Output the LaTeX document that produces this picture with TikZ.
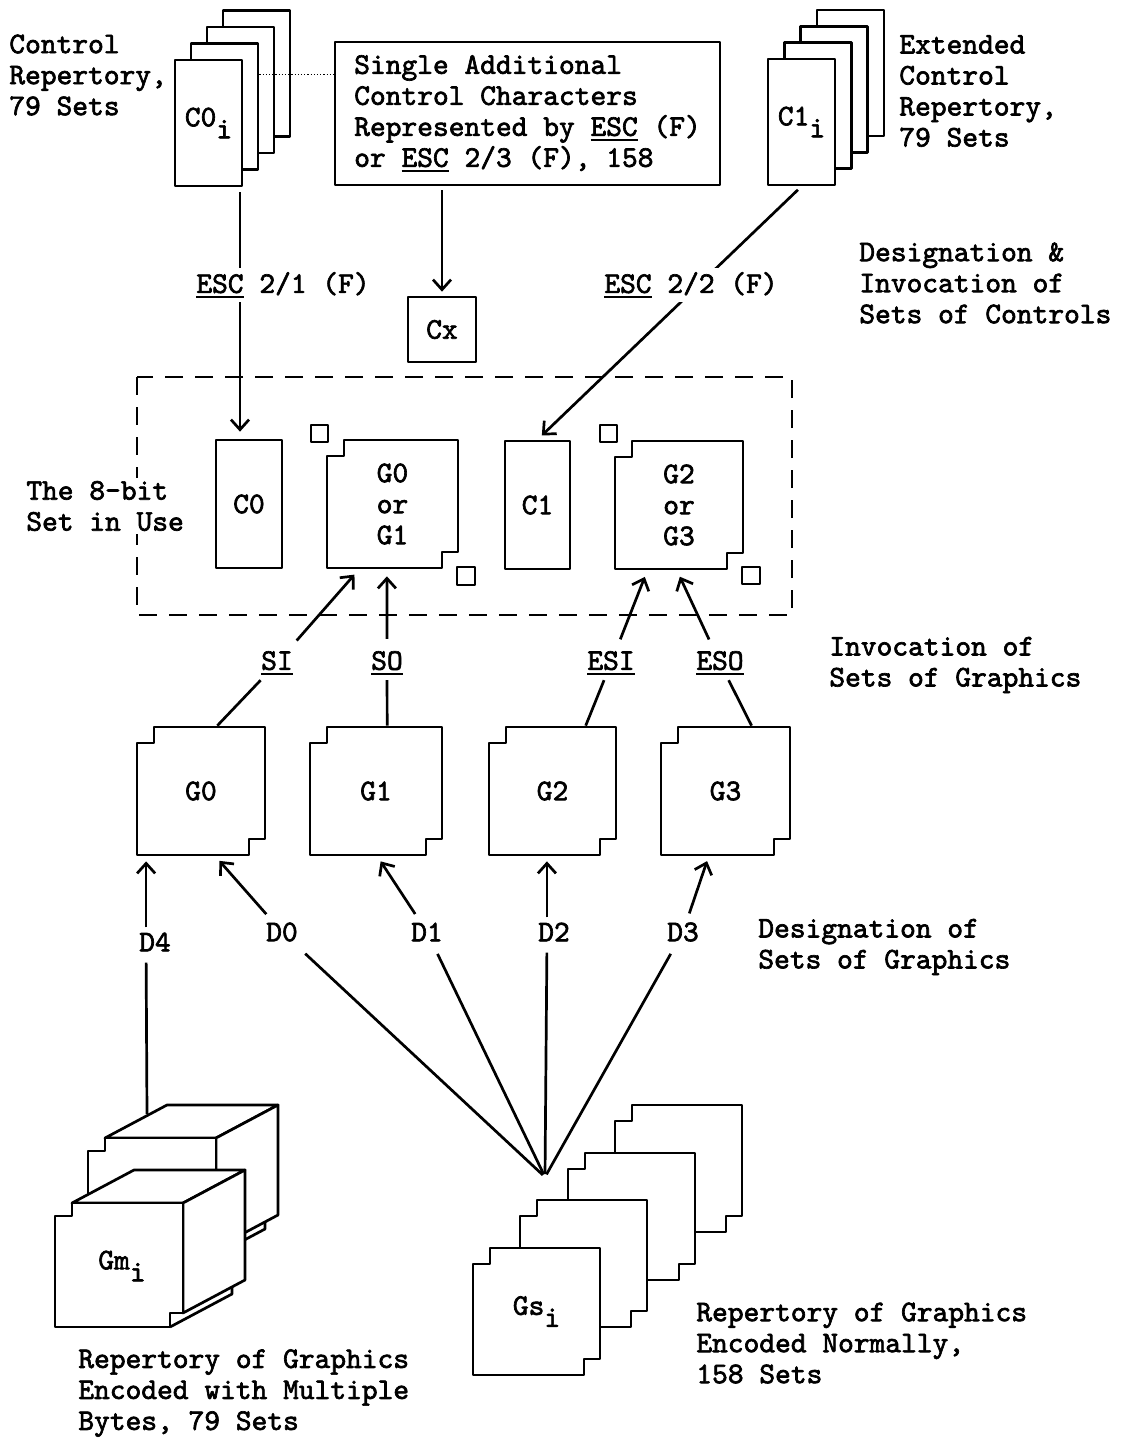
\documentclass[tikz,border=0pt]{standalone}
\usepackage{fontspec}
\newfontfamily\tw{lmmono10-regular.otf}[FakeBold=2.2]
\usetikzlibrary{calc,arrows.meta}
\newcommand\ul[1]{\setbox0\hbox{#1}\rlap{\rule[-5pt]{\wd0}{2.2pt}}\box0\relax}
\newcommand\gbox[6]{%
  \draw[fill=white] (#2+17,#3) -- (#4,#3) -- (#4,#5-16) -- (#4-16,#5-16) -- (#4-16,#5) -- (#2,#5) -- (#2,#3+16) -- (#2+17,#3+16) -- cycle;
  \node[minimum width=#4-#2, minimum height=#5-#3, align=center] (#1) at ({(#2+#4)/2},{(#3+#5)/2}) {#6};}
\newcommand\gmcube{%
  \draw[fill=white] (72,1203) -- (134,1170) -- (245,1170) -- (183,1203) -- cycle;
  \draw[fill=white] (183,1203) -- (245,1170) -- (245,1280) -- (183,1313) -- cycle;
  \draw (170,1327) -- (232,1294) -- (232,1287);
  \draw[fill=white] (72,1203) -- (183,1203) -- (183,1313) -- (170,1313) -- (170,1327) -- (55,1327) -- (55,1216) -- (72,1216) -- cycle;}
\begin{document}
\begin{tikzpicture}[x=1pt,y=-1pt,line width=2.7pt,line join=round,
  every node/.style={font=\tw\fontsize{30}{31}\selectfont, inner sep=0pt},
  card/.style={draw,fill=white,minimum width=67pt,minimum height=126pt},
  txt/.style={align=left,anchor=west},
  lab/.style={inner sep=4pt},
  arr/.style={-{Straight Barb[length=10pt,width=18pt]}}]
\useasboundingbox (0,0) rectangle (1124,1440);

% control repertory stack
\node[card] (c0d) at (256.5,73.5) {};
\node[card] (c0c) at (240.5,90) {};
\node[card] (c0b) at (224.5,106.5) {};
\node[card] (c0i) at (208.5,123) {C0\raisebox{-12pt}{i}};
\node[txt] (ctrlrep) at (8,75) {Control\\Repertory,\\79 Sets};

% extended control stack
\node[card] (c1d) at (850.4,73.1) {};
\node[card] (c1c) at (834.1,89.4) {};
\node[card] (c1b) at (817.8,105.7) {};
\node[card] (c1i) at (801.5,122) {C1\raisebox{-12pt}{i}};
\node[txt] (extrep) at (898,91) {Extended\\Control\\Repertory,\\79 Sets};

% single additional box
\node[draw,minimum width=385pt,minimum height=143pt,align=left] (single) at (527.5,113.5)
  {Single Additional\\Control Characters\\Represented by \ul{ESC} (F)\\or \ul{ESC} 2/3 (F), 158};
\coordinate (dotA) at ([yshift=32pt]c0b.east);
\draw[dotted,line width=1.2pt] (dotA) -- (dotA -| single.west);

\node[draw,minimum width=68pt,minimum height=65pt] (cx) at (442,329.5) {Cx};
\node[txt] (desctl) at (858,283) {Designation \&\\Invocation of\\Sets of Controls};

% 8-bit set in use
\draw[dash pattern=on 18pt off 12pt] (137,377) rectangle (792,615);
\node[txt,fill=white,inner sep=3pt] (inuse) at (22,506) {The 8-bit\\Set in Use};
\node[draw,minimum width=66pt,minimum height=128pt] (c0box) at (249,504) {C0};
\node[draw,minimum width=65pt,minimum height=128pt] (c1box) at (537.5,505) {C1};
\gbox{g01}{327}{440}{458}{568}{G0\\or\\G1}
\gbox{g23}{615}{441}{743}{569}{G2\\or\\G3}
\draw (311,425) rectangle (328,442);
\draw (457,567) rectangle (475,585);
\draw (600,425) rectangle (617,442);
\draw (742,567) rectangle (760,584);

% control connectors
\coordinate (t1) at ([xshift=-9pt]c0box.north);
\draw[arr,shorten <=5pt,shorten >=7pt] (t1 |- c0i.south) -- (t1);
\node[lab,fill=white] (esc21) at (283,285) {\ul{ESC} 2/1 (F)};
\draw[arr,shorten <=5pt,shorten >=6pt] (c1i.south) -- (c1box.north);
\node[lab,fill=white] (esc22) at (691,285) {\ul{ESC} 2/2 (F)};
\draw[arr,shorten <=4pt,shorten >=4pt] (cx.north |- single.south) -- (cx.north);

% graphics sets
\gbox{g0}{137}{727}{265}{855}{G0}
\gbox{g1}{310}{727}{442}{855}{G1}
\gbox{g2}{489}{727}{616}{855}{G2}
\gbox{g3}{661}{727}{790}{855}{G3}
\node[txt] (invgr) at (828,665) {Invocation of\\Sets of Graphics};

% invocation labels and connectors
\node[lab] (si) at (277,663) {\ul{SI}};
\node[lab] (so) at (387,663) {\ul{SO}};
\node[lab] (esi) at (611,663) {\ul{ESI}};
\node[lab] (eso) at (720,663) {\ul{ESO}};
\coordinate (g0top) at ($(g0.north west)!0.625!(g0.north east)$);
\coordinate (g1top) at ($(g1.north west)!0.583!(g1.north east)$);
\coordinate (g2top) at ($(g2.north west)!0.756!(g2.north east)$);
\coordinate (g3top) at ($(g3.north west)!0.698!(g3.north east)$);
\coordinate (g01si) at ($(g01.south west)!0.25!(g01.south east)$);
\coordinate (g01so) at ($(g01.south west)!0.458!(g01.south east)$);
\coordinate (g23esi) at ($(g23.south west)!0.258!(g23.south east)$);
\coordinate (g23eso) at ($(g23.south west)!0.484!(g23.south east)$);
\draw[arr,shorten <=7pt,shorten >=7pt] (g0top) -- (si) -- (g01si);
\draw[arr,shorten <=7pt,shorten >=7pt] (g1top) -- (so) -- (g01so);
\draw[arr,shorten <=7pt,shorten >=7pt] (g2top) -- (esi) -- (g23esi);
\draw[arr,shorten <=7pt,shorten >=7pt] (g3top) -- (eso) -- (g23eso);

% designation labels
\node[lab] (d4) at (155,942) {D4};
\node[lab] (d0) at (282,932) {D0};
\node[lab] (d1) at (427,932) {D1};
\node[lab] (d2) at (554,932) {D2};
\node[lab] (d3) at (683,932) {D3};
\node[txt] (desgr) at (757,947) {Designation of\\Sets of Graphics};
\coordinate (g0d4) at ($(g0.south west)!0.08!(g0.south east)$);
\coordinate (g0d0) at ($(g0.south west)!0.61!(g0.south east)$);
\coordinate (g1d1) at ($(g1.south west)!0.51!(g1.south east)$);
\coordinate (g2d2) at ($(g2.south west)!0.457!(g2.south east)$);
\coordinate (g3d3) at ($(g3.south west)!0.372!(g3.south east)$);
\draw[arr,shorten >=5pt] (g0d4 |- d4.north) -- (g0d4);
\draw[arr,shorten <=4pt,shorten >=6pt] (d0) -- (g0d0);
\draw[arr,shorten <=4pt,shorten >=6pt] (d1) -- (g1d1);
\draw[arr,shorten >=5pt] (g2d2 |- d2.north) -- (g2d2);
\draw[arr,shorten <=4pt,shorten >=5pt] (d3) -- (g3d3);

% multiple byte repertory
\begin{scope}[shift={(33,-65)}]\gmcube\end{scope}
\gmcube
\node (gmi) at (122,1266) {Gm\raisebox{-12pt}{i}};
\node[txt] (repm) at (77,1393) {Repertory of Graphics\\Encoded with Multiple\\Bytes, 79 Sets};
\coordinate (gmtop) at (147,1114);
\draw[shorten <=6pt] (g0d4 |- d4.south) -- (gmtop);

% normally encoded repertory
\gbox{gsd}{615}{1105}{742}{1232}{}
\gbox{gsc}{568}{1153}{695}{1280}{}
\gbox{gsb}{520}{1200}{647}{1327}{}
\gbox{gsi}{473}{1248}{600}{1375}{Gs\raisebox{-12pt}{i}}
\node[txt] (repn) at (695,1343) {Repertory of Graphics\\Encoded Normally,\\158 Sets};
\coordinate (apex) at (545,1177);
\draw[shorten <=10pt,shorten >=3pt] (d0) -- (apex);
\draw[shorten <=8pt,shorten >=3pt] (d1) -- (apex);
\draw[shorten <=6pt,shorten >=3pt] (g2d2 |- d2.south) -- (apex);
\draw[shorten <=8pt,shorten >=3pt] (d3) -- (apex);
\end{tikzpicture}
\end{document}
